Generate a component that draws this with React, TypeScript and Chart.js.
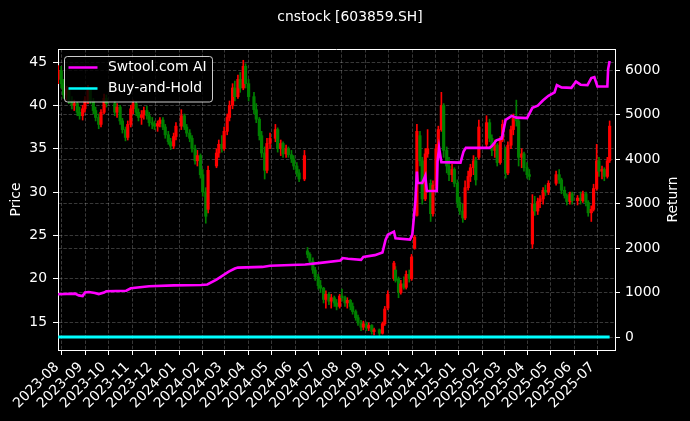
import React, { useEffect, useRef } from "react";
import { Chart, registerables } from "chart.js";

Chart.register(...registerables);

// ---------- data ----------
const chartTitle = "cnstock [603859.SH]";

const candleDates = [
  "2023-07-27","2023-07-31","2023-08-03","2023-08-07","2023-08-10","2023-08-14","2023-08-17","2023-08-21","2023-08-24","2023-08-28",
  "2023-08-31","2023-09-04","2023-09-07","2023-09-11","2023-09-14","2023-09-18","2023-09-21","2023-09-25","2023-09-28","2023-10-09",
  "2023-10-12","2023-10-16","2023-10-19","2023-10-23","2023-10-26","2023-10-30","2023-11-02","2023-11-06","2023-11-09","2023-11-13",
  "2023-11-16","2023-11-20","2023-11-23","2023-11-27","2023-11-30","2023-12-04","2023-12-07","2023-12-11","2023-12-14","2023-12-18",
  "2023-12-21","2023-12-25","2023-12-28","2024-01-04","2024-01-08","2024-01-11","2024-01-15","2024-01-18","2024-01-22","2024-01-25",
  "2024-01-29","2024-02-01","2024-02-05","2024-02-08","2024-02-19","2024-02-22","2024-02-26","2024-02-29","2024-03-04","2024-03-07",
  "2024-03-11","2024-03-14","2024-03-18","2024-03-21","2024-03-25","2024-03-28","2024-04-01","2024-04-08","2024-04-11","2024-04-15",
  "2024-04-18","2024-04-22","2024-04-25","2024-04-29","2024-05-06","2024-05-09","2024-05-13","2024-05-16","2024-05-20","2024-05-23",
  "2024-05-27","2024-05-30","2024-06-03","2024-06-06","2024-06-13","2024-06-17","2024-06-20","2024-06-24","2024-06-27","2024-07-01",
  "2024-07-04","2024-07-08","2024-07-11","2024-07-15","2024-07-18","2024-07-22","2024-07-25","2024-07-29","2024-08-01","2024-08-05",
  "2024-08-08","2024-08-12","2024-08-15","2024-08-19","2024-08-22","2024-08-26","2024-08-29","2024-09-02","2024-09-05","2024-09-09",
  "2024-09-12","2024-09-19","2024-09-23","2024-09-26","2024-09-30","2024-10-08","2024-10-10","2024-10-14","2024-10-17","2024-10-21",
  "2024-10-24","2024-10-28","2024-10-31","2024-11-04","2024-11-07","2024-11-11","2024-11-14","2024-11-18","2024-11-21","2024-11-25",
  "2024-11-28","2024-12-02","2024-12-05","2024-12-09","2024-12-12","2024-12-16","2024-12-19","2024-12-23","2024-12-26","2024-12-30",
  "2025-01-02","2025-01-06","2025-01-09","2025-01-13","2025-01-16","2025-01-20","2025-01-23","2025-01-27","2025-02-06","2025-02-10",
  "2025-02-13","2025-02-17","2025-02-20","2025-02-24","2025-02-27","2025-03-03","2025-03-06","2025-03-10","2025-03-13","2025-03-17",
  "2025-03-20","2025-03-24","2025-03-27","2025-03-31","2025-04-03","2025-04-07","2025-04-10","2025-04-14","2025-04-17","2025-04-21",
  "2025-04-24","2025-04-28","2025-05-08","2025-05-12","2025-05-15","2025-05-19","2025-05-22","2025-05-26","2025-05-29","2025-06-05",
  "2025-06-09","2025-06-12","2025-06-16","2025-06-19","2025-06-23","2025-06-26","2025-06-30","2025-07-03","2025-07-07","2025-07-10",
  "2025-07-14","2025-07-17",
];

const opens = [
  43.0,44.0,42.5,41.2,41.8,40.5,40.0,40.2,39.2,38.8,
  39.6,40.6,41.8,40.5,39.4,38.6,37.8,39.2,40.8,40.2,
  39.2,39.8,38.2,37.2,36.3,37.8,39.6,40.2,39.2,38.6,
  38.9,39.4,38.8,38.0,37.8,37.6,37.9,38.3,37.5,36.6,
  35.8,35.3,36.4,37.6,38.8,37.5,36.8,36.2,35.0,33.6,
  34.2,32.0,30.0,28.0,33.0,34.5,35.5,35.0,37.0,38.6,
  40.0,42.0,41.0,43.0,42.0,44.5,42.5,41.0,39.5,38.4,
  36.5,34.5,32.5,35.6,36.2,37.2,35.0,35.6,34.4,35.0,
  34.3,33.8,33.0,32.2,31.5,23.2,22.8,22.0,21.0,20.2,
  19.2,18.9,17.6,18.2,17.4,17.8,17.2,16.8,18.0,17.8,
  17.2,17.5,16.8,16.2,15.5,14.9,14.4,14.8,14.3,14.6,
  13.9,14.1,13.7,14.8,16.6,20.0,21.0,20.0,18.4,19.4,
  19.0,20.5,20.0,23.5,27.3,36.5,33.6,29.2,34.4,31.0,
  27.5,30.8,35.0,37.2,40.0,34.8,33.0,32.0,32.6,31.0,
  28.8,27.8,27.0,30.5,31.8,32.8,33.6,34.0,35.5,38.0,
  36.2,34.8,35.4,33.4,36.0,35.0,32.2,35.4,37.2,38.5,
  38.2,34.0,34.4,32.8,32.0,24.0,28.6,27.8,28.9,29.2,
  30.2,30.0,31.0,32.0,31.4,30.2,29.6,28.9,29.8,29.0,
  29.3,29.0,29.8,28.8,27.6,28.0,30.4,33.6,32.4,32.6,
  31.8,33.6,
];

const highs = [
  44.6,44.5,43.0,42.2,42.0,41.0,40.6,40.4,39.8,40.0,
  41.0,42.3,42.0,40.8,39.8,39.0,39.5,41.3,41.2,40.5,
  40.2,40.0,38.5,37.5,38.2,40.0,40.6,40.4,39.6,39.4,
  39.8,39.9,39.2,38.6,38.2,38.2,38.6,38.6,37.8,37.0,
  36.2,36.8,38.0,39.5,39.0,37.8,37.2,36.5,35.4,34.8,
  34.4,32.6,30.5,33.0,35.0,36.0,36.5,37.5,39.0,40.5,
  42.5,42.8,43.5,43.8,45.2,44.8,43.0,41.5,40.2,38.6,
  37.0,35.2,36.2,36.8,37.8,37.4,36.0,35.8,35.4,35.2,
  34.8,34.2,33.4,32.6,34.8,23.6,23.0,22.4,21.3,20.5,
  19.8,19.0,18.6,18.4,18.2,18.0,17.6,18.2,18.8,18.0,
  17.8,17.6,17.2,16.4,15.8,15.2,15.1,15.0,14.9,14.7,
  14.3,14.2,15.0,16.8,18.6,22.0,21.4,20.2,19.8,20.2,
  20.9,21.0,22.8,25.0,37.8,37.0,34.0,35.0,37.2,31.4,
  31.3,35.5,37.6,41.5,40.2,35.2,34.0,33.2,32.8,31.4,
  29.4,28.6,31.3,32.4,33.2,34.2,34.0,38.3,38.8,38.4,
  36.6,36.0,35.6,36.4,38.3,35.2,35.8,37.6,39.0,40.6,
  38.4,35.0,34.6,33.4,32.6,29.7,29.5,29.3,29.6,30.5,
  30.8,31.3,32.4,32.6,31.6,30.6,29.8,30.0,30.0,29.6,
  30.0,30.1,30.0,29.0,28.4,30.9,35.5,34.0,33.0,32.8,
  34.0,38.2,
];

const lows = [
  42.5,42.0,40.8,40.6,40.2,39.6,39.4,38.8,38.4,38.3,
  39.2,40.2,40.2,39.0,38.2,37.3,37.5,39.0,39.8,38.8,
  38.6,37.8,36.8,35.9,36.0,37.5,39.0,38.8,38.2,37.8,
  38.4,38.4,37.6,37.3,37.2,37.0,37.5,37.2,36.2,35.5,
  34.9,35.0,36.0,37.2,37.2,36.4,35.8,34.6,33.2,33.0,
  31.6,29.5,26.4,27.6,32.8,34.0,34.6,34.8,36.6,38.2,
  39.6,40.5,40.8,41.5,41.8,42.0,40.5,39.0,38.0,36.0,
  34.0,31.5,32.2,35.0,35.8,34.6,34.2,34.0,34.0,34.0,
  33.4,32.6,31.8,31.2,31.3,22.4,21.6,20.6,19.8,18.8,
  18.4,17.2,16.6,17.0,16.6,16.8,16.4,16.6,17.4,16.8,
  16.6,16.4,15.9,15.2,14.6,14.0,14.1,14.0,14.0,13.6,
  13.5,13.4,13.6,14.6,16.4,19.8,19.6,17.8,18.2,18.8,
  18.8,19.6,19.8,23.4,27.2,33.0,28.6,29.0,34.0,26.6,
  27.2,30.5,34.8,37.0,34.0,32.2,31.3,31.2,30.6,28.2,
  27.4,26.5,26.8,30.2,31.2,32.0,30.8,33.8,35.2,35.8,
  34.2,34.0,33.0,33.2,35.8,31.6,32.0,35.0,36.6,37.6,
  33.0,32.8,32.4,31.6,31.4,23.5,27.3,27.4,28.2,28.6,
  29.6,29.7,30.8,31.0,29.8,29.3,28.5,28.6,28.6,28.5,
  28.6,28.8,28.4,27.2,26.6,27.8,30.2,31.8,31.5,31.3,
  31.6,33.4,
];

const closes = [
  44.0,42.5,41.2,41.8,40.5,40.0,40.2,39.2,38.8,39.6,
  40.6,41.8,40.5,39.4,38.6,37.8,39.2,40.8,40.2,39.2,
  39.8,38.2,37.2,36.3,37.8,39.6,40.2,39.2,38.6,38.9,
  39.4,38.8,38.0,37.8,37.6,37.9,38.3,37.5,36.6,35.8,
  35.3,36.4,37.6,38.8,37.5,36.8,36.2,35.0,33.6,34.2,
  32.0,30.0,27.2,32.5,34.5,35.5,35.0,37.0,38.6,40.0,
  42.0,41.0,43.0,42.0,44.5,42.5,41.0,39.5,38.4,36.5,
  34.5,32.5,35.6,36.2,37.2,35.0,35.6,34.4,35.0,34.3,
  33.8,33.0,32.2,31.5,34.2,22.8,22.0,21.0,20.2,19.2,
  18.9,17.6,18.2,17.4,17.8,17.2,16.8,18.0,17.8,17.2,
  17.5,16.8,16.2,15.5,14.9,14.4,14.8,14.3,14.6,13.9,
  14.1,13.7,14.8,16.5,18.2,21.8,19.8,18.4,19.4,19.0,
  20.5,20.0,22.5,24.8,37.0,33.6,29.2,34.4,35.0,27.5,
  30.8,35.0,37.2,40.0,34.8,33.0,32.0,32.6,31.0,28.8,
  27.8,27.0,30.5,31.8,32.8,33.6,31.4,37.5,38.0,36.2,
  34.8,35.4,33.4,36.0,37.8,32.2,35.4,37.2,38.5,38.2,
  34.0,34.4,32.8,32.0,31.8,28.6,27.8,28.9,29.2,30.2,
  30.0,31.0,32.0,31.4,30.2,29.6,28.9,29.8,29.0,29.3,
  29.0,29.8,28.8,27.6,28.0,30.4,33.6,32.4,32.6,31.8,
  33.6,37.6,
];

const returnDates = [
  "2023-07-27","2023-08-18","2023-08-23","2023-08-28","2023-08-31","2023-09-05","2023-09-13","2023-09-18","2023-09-25","2023-09-28",
  "2023-10-24","2023-10-30","2023-11-23","2023-12-25","2024-01-30","2024-02-07","2024-02-19","2024-02-27","2024-03-06","2024-03-14",
  "2024-03-18","2024-04-19","2024-04-29","2024-06-14","2024-07-04","2024-07-30","2024-08-02","2024-08-09","2024-08-26","2024-08-29",
  "2024-09-13","2024-09-23","2024-09-27","2024-09-30","2024-10-08","2024-10-10","2024-10-29","2024-11-01","2024-11-05","2024-11-07",
  "2024-11-08","2024-11-14","2024-11-18","2024-11-20","2024-12-03","2024-12-04","2024-12-06","2024-12-09","2025-01-03","2025-01-07",
  "2025-01-10","2025-02-10","2025-02-13","2025-02-19","2025-02-26","2025-03-03","2025-03-11","2025-03-17","2025-03-31","2025-04-07",
  "2025-04-14","2025-04-21","2025-04-28","2025-05-06","2025-05-09","2025-05-15","2025-05-28","2025-06-03","2025-06-09","2025-06-18",
  "2025-06-23","2025-06-27","2025-07-01","2025-07-14","2025-07-15","2025-07-17",
];
const strategyReturns = [
  960,975,935,920,1000,1010,990,965,1000,1030,
  1040,1095,1140,1160,1170,1180,1290,1380,1470,1540,
  1560,1575,1600,1630,1665,1720,1775,1760,1735,1800,
  1840,1900,2180,2300,2370,2220,2190,2300,3050,3720,
  3460,3460,3620,3280,3280,3950,4250,3930,3920,4170,
  4250,4250,4290,4420,4460,4880,4970,4930,4920,5150,
  5200,5320,5420,5500,5660,5610,5600,5740,5670,5660,
  5820,5840,5630,5630,6020,6200,
];

const holdDates = ["2023-07-27", "2024-01-02", "2024-07-01", "2025-01-02", "2025-07-17"];
const holdReturns = [0, 0, 0, 0, 0];

const priceTicks = [15, 20, 25, 30, 35, 40, 45];
const returnTicks = [0, 1000, 2000, 3000, 4000, 5000, 6000];
const monthTicks = [
  "2023-08","2023-09","2023-10","2023-11","2023-12","2024-01","2024-02","2024-03","2024-04","2024-05","2024-06","2024-07",
  "2024-08","2024-09","2024-10","2024-11","2024-12","2025-01","2025-02","2025-03","2025-04","2025-05","2025-06","2025-07",
];

// ---------- helpers & styles ----------
const toTime = (s: string) => {
  const p = s.split("-").map(Number);
  return Date.UTC(p[0], p[1] - 1, p[2] || 1);
};
const FONT = "'DejaVu Sans', 'Liberation Sans', sans-serif";
const FS = 13.9;
const GRID = "rgba(255,255,255,0.28)";
const UP = "rgb(255,0,0)";
const DOWN = "rgb(0,128,0)";

const extrasPlugin = {
  id: "extras",
  afterDraw(chart: any) {
    const { ctx, chartArea } = chart;
    ctx.save();
    // top spine
    ctx.strokeStyle = "white";
    ctx.lineWidth = 1;
    ctx.beginPath();
    ctx.moveTo(chartArea.left, Math.round(chartArea.top) + 0.5);
    ctx.lineTo(chartArea.right, Math.round(chartArea.top) + 0.5);
    ctx.stroke();
    // title
    ctx.fillStyle = "white";
    ctx.font = `${FS}px ${FONT}`;
    ctx.textAlign = "center";
    ctx.textBaseline = "middle";
    ctx.fillText(chartTitle, 350, 17);
    // right axis label (reads bottom-to-top)
    ctx.save();
    ctx.translate(673, (chartArea.top + chartArea.bottom) / 2);
    ctx.rotate(-Math.PI / 2);
    ctx.fillText("Return", 0, 0);
    ctx.restore();
    // legend inside the plot
    const lx = chartArea.left + 6.5;
    const ly = chartArea.top + 7.5;
    const lw = 148;
    const lh = 45.5;
    const r = 3;
    ctx.beginPath();
    ctx.moveTo(lx + r, ly);
    ctx.lineTo(lx + lw - r, ly);
    ctx.arcTo(lx + lw, ly, lx + lw, ly + r, r);
    ctx.lineTo(lx + lw, ly + lh - r);
    ctx.arcTo(lx + lw, ly + lh, lx + lw - r, ly + lh, r);
    ctx.lineTo(lx + r, ly + lh);
    ctx.arcTo(lx, ly + lh, lx, ly + lh - r, r);
    ctx.lineTo(lx, ly + r);
    ctx.arcTo(lx, ly, lx + r, ly, r);
    ctx.closePath();
    ctx.fillStyle = "rgba(0,0,0,0.8)";
    ctx.fill();
    ctx.strokeStyle = "rgba(255,255,255,0.8)";
    ctx.lineWidth = 1;
    ctx.stroke();
    const items = chart.data.datasets.filter((d: any) => d.type === "line");
    items.forEach((d: any, i: number) => {
      const y = ly + 11 + i * 21;
      ctx.strokeStyle = d.borderColor;
      ctx.lineWidth = 2.5;
      ctx.beginPath();
      ctx.moveTo(lx + 4, y);
      ctx.lineTo(lx + 33, y);
      ctx.stroke();
      ctx.fillStyle = "white";
      ctx.textAlign = "left";
      ctx.textBaseline = "middle";
      ctx.fillText(d.label, lx + 43.5, y);
    });
    ctx.restore();
  },
};

export default function App() {
  const ref = useRef<HTMLCanvasElement | null>(null);

  useEffect(() => {
    if (!ref.current) return;
    Chart.defaults.font.family = FONT;
    Chart.defaults.color = "white";
    const candleColors = closes.map((c, i) => (c >= opens[i] ? UP : DOWN));

    const gridCommon = {
      color: GRID,
      lineWidth: 0.8,
      drawTicks: true,
      tickLength: 5,
      tickColor: "white",
      tickWidth: 1,
      tickBorderDash: [],
      offset: false,
    };
    const borderCommon = { display: true, color: "white", width: 1, dash: [3.5, 1.8] };
    const tickFont = { family: FONT, size: FS };

    const chart = new Chart(ref.current, {
      type: "bar",
      data: {
        datasets: [
          {
            type: "line",
            label: "Swtool.com AI",
            data: returnDates.map((d, i) => ({ x: toTime(d), y: strategyReturns[i] })),
            yAxisID: "y1",
            borderColor: "#ff00ff",
            backgroundColor: "#ff00ff",
            borderWidth: 2.6,
            pointRadius: 0,
            tension: 0,
            order: 0,
          } as any,
          {
            type: "line",
            label: "Buy-and-Hold",
            data: holdDates.map((d, i) => ({ x: toTime(d), y: holdReturns[i] })),
            yAxisID: "y1",
            borderColor: "#00ffff",
            backgroundColor: "#00ffff",
            borderWidth: 3,
            pointRadius: 0,
            tension: 0,
            order: 0,
          } as any,
          {
            type: "bar",
            label: "wick",
            data: candleDates.map((d, i) => ({ x: toTime(d), y: [lows[i], highs[i]] })),
            yAxisID: "y",
            backgroundColor: candleColors,
            borderWidth: 0,
            barThickness: 1,
            grouped: false,
            order: 2,
          } as any,
          {
            type: "bar",
            label: "body",
            data: candleDates.map((d, i) => ({ x: toTime(d), y: [opens[i], closes[i]] })),
            yAxisID: "y",
            backgroundColor: candleColors,
            borderWidth: 0,
            barThickness: 2.5,
            grouped: false,
            order: 1,
          } as any,
        ],
      },
      options: {
        responsive: false,
        animation: false,
        events: [],
        layout: { padding: { top: 49, left: 0, right: 0, bottom: 0 } },
        plugins: { legend: { display: false }, title: { display: false }, tooltip: { enabled: false } },
        scales: {
          x: {
            type: "linear",
            min: Date.UTC(2023, 6, 26, 19),
            max: Date.UTC(2025, 6, 24),
            offset: false,
            afterBuildTicks: (s: any) => {
              s.ticks = monthTicks.map((m) => ({ value: toTime(m) }));
            },
            afterFit: (s: any) => {
              s.height = 71;
            },
            ticks: {
              autoSkip: false,
              minRotation: 45,
              maxRotation: 45,
              padding: 4,
              labelOffset: -5,
              color: "white",
              font: tickFont,
              callback: (v: any) => {
                const d = new Date(Number(v));
                return `${d.getUTCFullYear()}-${String(d.getUTCMonth() + 1).padStart(2, "0")}`;
              },
            },
            grid: gridCommon,
            border: borderCommon,
          } as any,
          y: {
            type: "linear",
            position: "left",
            min: 11.77,
            max: 46.5,
            afterBuildTicks: (s: any) => {
              s.ticks = priceTicks.map((v) => ({ value: v }));
            },
            afterFit: (s: any) => {
              s.width = 58;
            },
            ticks: { padding: 6, color: "white", font: tickFont, callback: (v: any) => String(v) },
            grid: gridCommon,
            border: borderCommon,
            title: {
              display: true,
              text: "Price",
              color: "white",
              font: { family: FONT, size: FS },
              padding: { top: 8.5, bottom: 0 },
            },
          } as any,
          y1: {
            type: "linear",
            position: "right",
            min: -292,
            max: 6472,
            afterBuildTicks: (s: any) => {
              s.ticks = returnTicks.map((v) => ({ value: v }));
            },
            afterFit: (s: any) => {
              s.width = 75;
            },
            ticks: { padding: 5, color: "white", font: tickFont, callback: (v: any) => String(v) },
            grid: gridCommon,
            border: borderCommon,
          } as any,
        },
      } as any,
      plugins: [extrasPlugin],
    });
    return () => chart.destroy();
  }, []);

  return (
    <div style={{ position: "absolute", left: 0, top: 0, width: 690, height: 421, background: "#000" }}>
      <canvas ref={ref} width={690} height={421} style={{ display: "block", width: 690, height: 421 }} />
    </div>
  );
}
